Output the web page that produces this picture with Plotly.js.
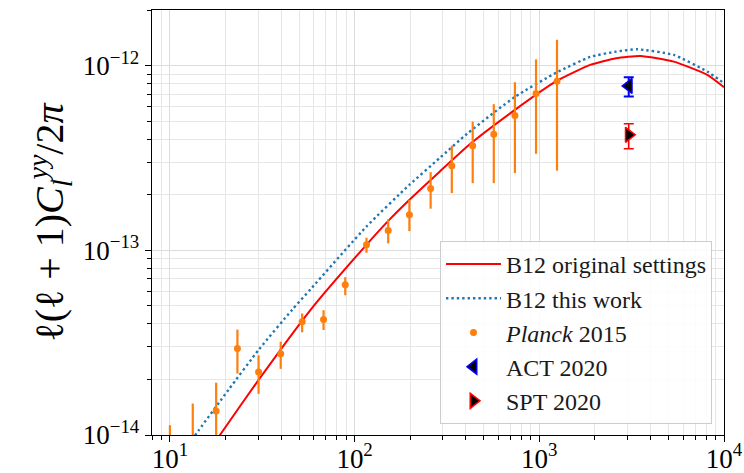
<!DOCTYPE html>
<html>
<head>
<meta charset="utf-8">
<script src="https://cdn.plot.ly/plotly-3.0.1.min.js"></script>
<style>
html,body{margin:0;padding:0;background:#fff;}
#chart{width:744px;height:473px;}
</style>
</head>
<body>
<div id="chart"></div>
<script>
// ---- Data ----
const ellModelOrig = [15, 18.79, 30.35, 57.9, 116.2, 154.4, 198.3, 288.6, 420.2, 737.9, 1243, 1886, 2602, 3526, 5350, 8123, 10000];
const clModelOrig  = [7.2e-15, 1.009e-14, 2.0e-14, 4.78e-14, 1.074e-13, 1.465e-13, 1.879e-13, 2.664e-13, 3.75e-13, 5.76e-13, 8.26e-13, 1.009e-12, 1.096e-12, 1.128e-12, 1.051e-12, 8.91e-13, 7.64e-13];

const ellModelThis = [12.64, 14.32, 20.84, 30.35, 46.03, 57.94, 116.2, 198.3, 288.6, 406.2, 737.9, 1243, 1886, 2602, 3382, 5350, 8123, 10000];
const clModelThis  = [8.91e-15, 1.06e-14, 1.766e-14, 2.904e-14, 4.78e-14, 6.18e-14, 1.348e-13, 2.265e-13, 3.158e-13, 4.273e-13, 6.77e-13, 9.19e-13, 1.114e-12, 1.19e-12, 1.226e-12, 1.142e-12, 9.28e-13, 8.03e-13];

const ellPlanck   = [10, 13.3, 17.8, 23.2, 30.2, 39.8, 52, 67.9, 89, 116, 152, 198, 258, 336, 436, 567, 738, 960, 1247];
const clPlanck    = [7e-15, 8.5e-15, 1.35e-14, 2.94e-14, 2.19e-14, 2.75e-14, 4.1e-14, 4.22e-14, 6.5e-14, 1.07e-13, 1.28e-13, 1.56e-13, 2.16e-13, 2.87e-13, 3.68e-13, 4.25e-13, 5.37e-13, 7.06e-13, 8.23e-13];
const errPlanckUp = [4.3e-15, 6.3e-15, 0.57e-14, 0.78e-14, 0.51e-14, 0.45e-14, 0.45e-14, 0.52e-14, 0.65e-14, 0.10e-13, 0.19e-13, 0.32e-13, 0.49e-13, 0.81e-13, 1.30e-13, 1.93e-13, 2.76e-13, 3.74e-13, 5.57e-13];
const errPlanckDn = [3e-15, 4e-15, 0.6e-14, 0.79e-14, 0.52e-14, 0.47e-14, 0.5e-14, 0.52e-14, 0.79e-14, 0.10e-13, 0.19e-13, 0.29e-13, 0.48e-13, 0.83e-13, 1.37e-13, 1.94e-13, 2.75e-13, 3.73e-13, 5.53e-13];

const ellACT = [3050], clACT = [7.76e-13], errACTUp = [0.89e-13], errACTDn = [0.96e-13];
const ellSPT = [3050], clSPT = [4.22e-13], errSPTUp = [0.62e-13], errSPTDn = [0.67e-13];

const xTickVals = [10, 100, 1000, 10000];
const xTickText = ['10<sup>1</sup>', '10<sup>2</sup>', '10<sup>3</sup>', '10<sup>4</sup>'];
const yTickVals = [1e-14, 1e-13, 1e-12];
const yTickText = ['10<sup>\u221214</sup>', '10<sup>\u221213</sup>', '10<sup>\u221212</sup>'];

const FONT = 'Liberation Serif, DejaVu Serif, serif';

const traces = [
  {x: ellModelOrig, y: clModelOrig, mode: 'lines', name: 'B12 original settings',
   line: {color: '#ff0000', width: 2, shape: 'spline', smoothing: 0.5}},
  {x: ellModelThis, y: clModelThis, mode: 'lines', name: 'B12 this work',
   line: {color: '#1f77b4', width: 2.4, dash: '2.4px,3px', shape: 'spline', smoothing: 0.5}},
  {x: ellPlanck, y: clPlanck, mode: 'markers', name: '<i>Planck</i> 2015',
   marker: {color: '#ff7f0e', size: 7, symbol: 'circle'},
   error_y: {type: 'data', symmetric: false, array: errPlanckUp, arrayminus: errPlanckDn,
             color: '#ff7f0e', thickness: 2.2, width: 0}},
  {x: ellACT, y: clACT, mode: 'markers', name: 'ACT 2020',
   marker: {color: '#000000', size: 13, symbol: 'triangle-left', line: {color: '#0000ff', width: 1.5}},
   error_y: {type: 'data', symmetric: false, array: errACTUp, arrayminus: errACTDn,
             color: '#0000ff', thickness: 2, width: 5}},
  {x: ellSPT, y: clSPT, mode: 'markers', name: 'SPT 2020',
   marker: {color: '#000000', size: 13, symbol: 'triangle-right', line: {color: '#ff0000', width: 1.5}},
   error_y: {type: 'data', symmetric: false, array: errSPTUp, arrayminus: errSPTDn,
             color: '#ff0000', thickness: 1.5, width: 5}}
];

const gridMajor = '#dcdcdc';
const gridMinor = '#e6e6e6';

const layout = {
  width: 744, height: 473,
  margin: {l: 152, r: 20, t: 10, b: 38, pad: 0},
  paper_bgcolor: '#ffffff', plot_bgcolor: '#ffffff',
  font: {family: FONT, color: '#000000'},
  showlegend: true,
  xaxis: {
    type: 'log', range: [Math.log10(8), 4], autorange: false,
    tickmode: 'array', tickvals: xTickVals, ticktext: xTickText,
    tickfont: {family: FONT, size: 27, color: '#000'},
    ticks: 'outside', ticklen: 6, tickwidth: 1, tickcolor: '#000',
    ticklabelstandoff: -7,
    showline: true, linecolor: '#000', linewidth: 1.3, mirror: true,
    showgrid: true, gridcolor: gridMajor, gridwidth: 1,
    minor: {tickmode: 'linear', dtick: 'D1', ticks: 'outside', ticklen: 3.5, tickwidth: 1, tickcolor: '#000',
            showgrid: true, gridcolor: gridMinor, gridwidth: 1},
    zeroline: false, automargin: false
  },
  yaxis: {
    type: 'log', range: [-14, Math.log10(2e-12)], autorange: false,
    tickmode: 'array', tickvals: yTickVals, ticktext: yTickText,
    tickfont: {family: FONT, size: 27, color: '#000'},
    ticks: 'outside', ticklen: 6, tickwidth: 1, tickcolor: '#000',
    showline: true, linecolor: '#000', linewidth: 1.3, mirror: true,
    showgrid: true, gridcolor: gridMajor, gridwidth: 1,
    minor: {tickmode: 'linear', dtick: 'D1', ticks: 'outside', ticklen: 3.5, tickwidth: 1, tickcolor: '#000',
            showgrid: true, gridcolor: gridMinor, gridwidth: 1},
    zeroline: false, automargin: false,
    title: {text: '\u2113(\u2113 + 1)<i>C</i><sub><i>l</i></sub><sup><i>yy</i></sup>/2<i>\u03c0</i>',
            font: {family: FONT, size: 40, color: '#000'}, standoff: 6}
  },
  legend: {
    x: 0.979, y: 0.026, xanchor: 'right', yanchor: 'bottom',
    bgcolor: 'rgba(255,255,255,0.85)', bordercolor: '#cccccc', borderwidth: 1,
    font: {family: FONT, size: 24, color: '#1a1a1a'},
    itemwidth: 55,
    tracegroupgap: 0
  }
};

Plotly.newPlot('chart', traces, layout, {displayModeBar: false, staticPlot: true});
</script>
</body>
</html>
